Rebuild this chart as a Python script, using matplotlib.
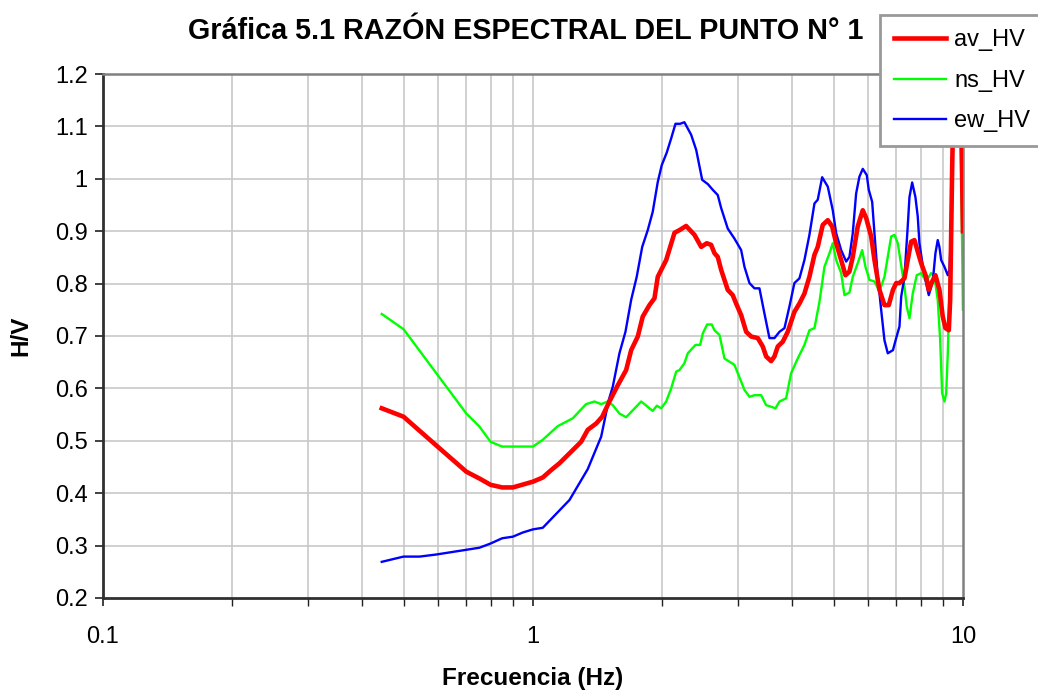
import numpy as np
import matplotlib
matplotlib.use("Agg")
import matplotlib.pyplot as plt
from matplotlib.ticker import FixedLocator, NullFormatter

plt.rcParams['font.family'] = ['Liberation Sans', 'DejaVu Sans']

# H/V spectral ratios (frequency in Hz, ratio)
av_freq = [0.445, 0.50, 0.60, 0.70, 0.751, 0.797, 0.848, 0.898, 1.0, 1.054, 1.102, 1.152,
           1.216, 1.294, 1.341, 1.403, 1.449, 1.506, 1.575, 1.647, 1.692, 1.753, 1.800,
           1.866, 1.917, 1.951, 2.041, 2.134, 2.191, 2.271, 2.375, 2.462, 2.536, 2.596,
           2.643, 2.690, 2.740, 2.838, 2.915, 2.968, 3.049, 3.132, 3.217, 3.333, 3.423,
           3.486, 3.581, 3.644, 3.710, 3.810, 3.913, 4.055, 4.166, 4.279, 4.395, 4.515,
           4.595, 4.720, 4.849, 4.964, 5.072, 5.209, 5.331, 5.445, 5.543, 5.692, 5.848,
           5.956, 6.117, 6.226, 6.395, 6.568, 6.722, 6.874, 6.994, 7.118, 7.311, 7.440,
           7.577, 7.712, 7.850, 7.994, 8.210, 8.327, 8.480, 8.630, 8.816, 8.974, 9.106,
           9.270, 9.338, 9.439, 9.505, 9.70, 10.0]
av_hv = [0.562, 0.546, 0.489, 0.441, 0.428, 0.416, 0.411, 0.411, 0.422, 0.430, 0.444, 0.457,
         0.476, 0.498, 0.521, 0.533, 0.546, 0.575, 0.606, 0.635, 0.673, 0.699, 0.737,
         0.759, 0.772, 0.813, 0.845, 0.897, 0.902, 0.910, 0.893, 0.870, 0.877, 0.874,
         0.858, 0.851, 0.826, 0.788, 0.778, 0.762, 0.740, 0.708, 0.699, 0.696, 0.680,
         0.661, 0.652, 0.661, 0.680, 0.689, 0.708, 0.746, 0.762, 0.781, 0.813, 0.855,
         0.870, 0.912, 0.921, 0.909, 0.877, 0.845, 0.816, 0.823, 0.851, 0.909, 0.940,
         0.925, 0.890, 0.845, 0.788, 0.759, 0.759, 0.788, 0.801, 0.801, 0.810, 0.845,
         0.880, 0.883, 0.861, 0.839, 0.813, 0.788, 0.804, 0.816, 0.788, 0.737, 0.715,
         0.711, 0.769, 1.020, 1.150, 1.600, 0.900]

ns_freq = [0.445, 0.50, 0.70, 0.751, 0.797, 0.848, 1.0, 1.054, 1.142, 1.238, 1.329, 1.390,
           1.441, 1.493, 1.533, 1.589, 1.647, 1.785, 1.899, 1.941, 1.987, 2.041, 2.096,
           2.153, 2.191, 2.250, 2.291, 2.388, 2.448, 2.483, 2.541, 2.605, 2.643, 2.715,
           2.789, 2.864, 2.941, 3.049, 3.104, 3.188, 3.274, 3.394, 3.486, 3.581, 3.664,
           3.744, 3.879, 3.984, 4.128, 4.279, 4.395, 4.515, 4.637, 4.763, 4.893, 4.980,
           5.072, 5.209, 5.302, 5.445, 5.543, 5.692, 5.830, 5.933, 6.062, 6.226, 6.395,
           6.568, 6.686, 6.808, 6.930, 7.054, 7.184, 7.311, 7.401, 7.509, 7.643, 7.808,
           7.994, 8.210, 8.433, 8.584, 8.737, 8.851, 8.945, 9.057, 9.140, 9.220, 9.338,
           9.45, 9.505, 9.70, 10.0]
ns_hv = [0.742, 0.713, 0.552, 0.527, 0.498, 0.489, 0.489, 0.502, 0.528, 0.543, 0.570, 0.575,
         0.570, 0.575, 0.568, 0.552, 0.545, 0.575, 0.557, 0.567, 0.562, 0.575, 0.600,
         0.632, 0.635, 0.648, 0.667, 0.683, 0.683, 0.705, 0.722, 0.722, 0.711, 0.702,
         0.657, 0.651, 0.645, 0.613, 0.597, 0.584, 0.587, 0.587, 0.568, 0.565, 0.562,
         0.575, 0.581, 0.629, 0.657, 0.683, 0.711, 0.715, 0.765, 0.832, 0.858, 0.877,
         0.845, 0.820, 0.778, 0.783, 0.813, 0.839, 0.864, 0.832, 0.807, 0.804, 0.785,
         0.813, 0.851, 0.890, 0.893, 0.877, 0.835, 0.794, 0.756, 0.734, 0.781, 0.816,
         0.820, 0.804, 0.820, 0.813, 0.769, 0.692, 0.591, 0.575, 0.590, 0.667, 0.832,
         1.000, 1.150, 1.600, 0.750]

ew_freq = [0.445, 0.50, 0.545, 0.596, 0.70, 0.751, 0.797, 0.848, 0.898, 0.947, 1.0, 1.054,
           1.216, 1.341, 1.441, 1.501, 1.533, 1.589, 1.641, 1.692, 1.743, 1.795, 1.849,
           1.899, 1.951, 1.993, 2.047, 2.096, 2.145, 2.199, 2.250, 2.333, 2.397, 2.475,
           2.550, 2.619, 2.690, 2.740, 2.838, 2.941, 3.049, 3.104, 3.188, 3.274, 3.363,
           3.454, 3.548, 3.644, 3.744, 3.845, 3.948, 4.055, 4.166, 4.279, 4.395, 4.515,
           4.595, 4.705, 4.849, 4.980, 5.072, 5.209, 5.351, 5.445, 5.543, 5.644, 5.744,
           5.848, 5.975, 6.039, 6.150, 6.226, 6.338, 6.453, 6.568, 6.686, 6.874, 6.994,
           7.118, 7.184, 7.311, 7.440, 7.509, 7.619, 7.753, 7.850, 7.921, 8.062, 8.210,
           8.327, 8.507, 8.630, 8.737, 8.816, 8.898, 9.057, 9.220, 9.303, 9.389, 9.470,
           9.505, 9.70, 10.0]
ew_hv = [0.269, 0.279, 0.279, 0.283, 0.292, 0.296, 0.304, 0.314, 0.317, 0.325, 0.331, 0.334,
         0.387, 0.446, 0.508, 0.578, 0.603, 0.667, 0.708, 0.769, 0.813, 0.870, 0.902,
         0.937, 0.994, 1.026, 1.050, 1.077, 1.105, 1.105, 1.108, 1.084, 1.055, 0.998,
         0.990, 0.979, 0.969, 0.944, 0.905, 0.886, 0.864, 0.832, 0.801, 0.791, 0.791,
         0.743, 0.696, 0.696, 0.708, 0.715, 0.756, 0.801, 0.810, 0.845, 0.893, 0.953,
         0.960, 1.003, 0.985, 0.940, 0.896, 0.864, 0.842, 0.851, 0.896, 0.972, 1.004,
         1.019, 1.007, 0.979, 0.956, 0.896, 0.813, 0.750, 0.692, 0.667, 0.673, 0.696,
         0.718, 0.775, 0.813, 0.909, 0.965, 0.993, 0.965, 0.928, 0.877, 0.835, 0.801,
         0.778, 0.804, 0.858, 0.883, 0.870, 0.845, 0.832, 0.816, 0.826, 0.909, 1.100,
         1.190, 1.600, 1.000]

series_names = ["av_HV", "ns_HV", "ew_HV"]
y_ticks = [0.2, 0.3, 0.4, 0.5, 0.6, 0.7, 0.8, 0.9, 1.0, 1.1, 1.2]
y_labels = ["0.2", "0.3", "0.4", "0.5", "0.6", "0.7", "0.8", "0.9", "1", "1.1", "1.2"]

fig = plt.figure(figsize=(10.38, 6.91), dpi=100)
ax = fig.add_axes([0.0992, 0.1346, 0.8285, 0.7583])

grid_col = "#c8c8c8"
minor_x = [m * d for d in (0.1, 1.0) for m in range(2, 10)]
for xv in minor_x + [1.0]:
    ax.axvline(xv, color=grid_col, lw=1.2, zorder=0)
for yv in y_ticks[1:-1]:
    ax.axhline(yv, color=grid_col, lw=1.2, zorder=0)

ax.plot(av_freq, av_hv, color="#ff0000", lw=3.3, label=series_names[0], zorder=3)
ax.plot(ns_freq, ns_hv, color="#00ff00", lw=1.7, label=series_names[1], zorder=2)
ax.plot(ew_freq, ew_hv, color="#0000ff", lw=1.7, label=series_names[2], zorder=2)

ax.set_xscale("log")
ax.set_xlim(0.1, 10)
ax.set_ylim(0.2, 1.2)
ax.set_xticks([0.1, 1, 10])
ax.set_xticklabels(["0.1", "1", "10"])
ax.xaxis.set_minor_locator(FixedLocator(minor_x))
ax.xaxis.set_minor_formatter(NullFormatter())
ax.set_yticks(y_ticks)
ax.set_yticklabels(y_labels)
ax.tick_params(axis="y", which="major", labelsize=17, length=6, width=1.2,
               direction="out", color="#202020", pad=5)
ax.tick_params(axis="x", which="major", labelsize=17, length=6, width=1.2,
               direction="out", color="#202020", pad=14)
ax.tick_params(axis="x", which="minor", length=6, width=1.0, direction="out", color="#202020")

for side in ("left", "bottom"):
    ax.spines[side].set_color("#303030")
    ax.spines[side].set_linewidth(2.0)
for side in ("top", "right"):
    ax.spines[side].set_color("#808080")
    ax.spines[side].set_linewidth(1.8)

ax.set_xlabel("Frecuencia (Hz)", fontsize=17.5, fontweight="bold", labelpad=14)
ax.set_ylabel("H/V", fontsize=17.5, fontweight="bold", labelpad=16)
fig.text(0.506, 0.955, "Gráfica 5.1 RAZÓN ESPECTRAL DEL PUNTO N° 1", ha="center", va="center",
         fontsize=20.7, fontweight="bold")

leg = fig.legend(loc="upper right", bbox_to_anchor=(1.006, 0.978), fontsize=17,
                 handlelength=2.2, handletextpad=0.35, labelspacing=0.78,
                 borderpad=0.6, borderaxespad=0.0, fancybox=False, framealpha=1,
                 edgecolor="#999999")
leg.get_frame().set_linewidth(2.0)

fig.savefig("out.png", dpi=100)
